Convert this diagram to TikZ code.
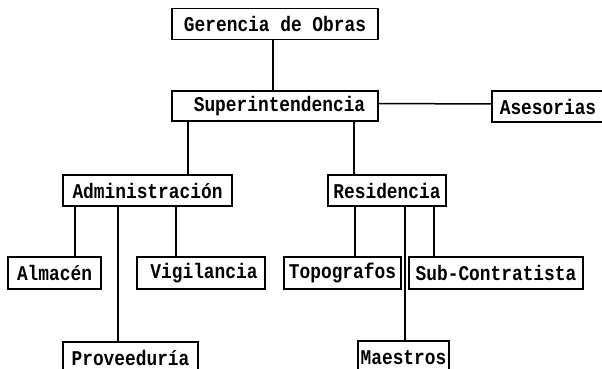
\documentclass[tikz,border=0pt]{standalone}
\usepackage{fontspec}
\newfontfamily\typ[FakeStretch=0.85]{Liberation Mono}
\begin{document}
\begin{tikzpicture}[x=1pt,y=-1pt,
  box/.style={draw, line width=1.5pt, inner sep=0pt, outer sep=0pt,
    minimum height=31pt, font=\typ\bfseries\fontsize{21}{23}\selectfont},
  link/.style={line width=1.5pt}]
\useasboundingbox (0,0) rectangle (602,369);
% level 1-2
\node[box, minimum width=206pt] (ger) at (275,24) {Gerencia de Obras};
\node[box, minimum width=206pt, minimum height=30pt] (sup) at (275,106) {\hspace*{9pt}Superintendencia};
\node[box, minimum width=112pt] (ase) at (548,106.5) {Asesorias};
% level 3
\node[box, minimum width=169pt] (adm) at (147.5,190.5) {Administración};
\node[box, minimum width=118pt] (res) at (387,190.5) {Residencia};
% level 4
\node[box, minimum width=93pt, minimum height=32pt] (alm) at (54.5,273) {Almacén};
\node[box, minimum width=128pt, minimum height=32pt] (vig) at (201,273) {\hspace*{6pt}Vigilancia};
\node[box, minimum width=117pt, minimum height=32pt] (top) at (342.5,273) {Topografos};
\node[box, minimum width=174pt, minimum height=32pt] (sub) at (496,273) {Sub-Contratista};
% level 5
\node[box, minimum width=135pt, minimum height=32pt] (pro) at (130.5,358) {Proveeduría};
\node[box, minimum width=91pt, minimum height=33pt] (mae) at (403.5,357.5) {Maestros};
% connectors
\draw[link] (ger.south -| 273,0) -- (sup.north -| 273,0);
\draw[link] ([yshift=2.5pt]sup.east) -- ([yshift=2.5pt]ase.west);
\draw[link] (sup.south -| 188,0) -- (adm.north -| 188,0);
\draw[link] (sup.south -| 354,0) -- (res.north -| 354,0);
\draw[link] (adm.south -| 75,0) -- (alm.north -| 75,0);
\draw[link] (adm.south -| 118,0) -- (pro.north -| 118,0);
\draw[link] (adm.south -| 176,0) -- (vig.north -| 176,0);
\draw[link] (res.south -| 355,0) -- (top.north -| 355,0);
\draw[link] (res.south -| 405,0) -- (mae.north -| 405,0);
\draw[link] (res.south -| 434,0) -- (sub.north -| 434,0);
\end{tikzpicture}
\end{document}
